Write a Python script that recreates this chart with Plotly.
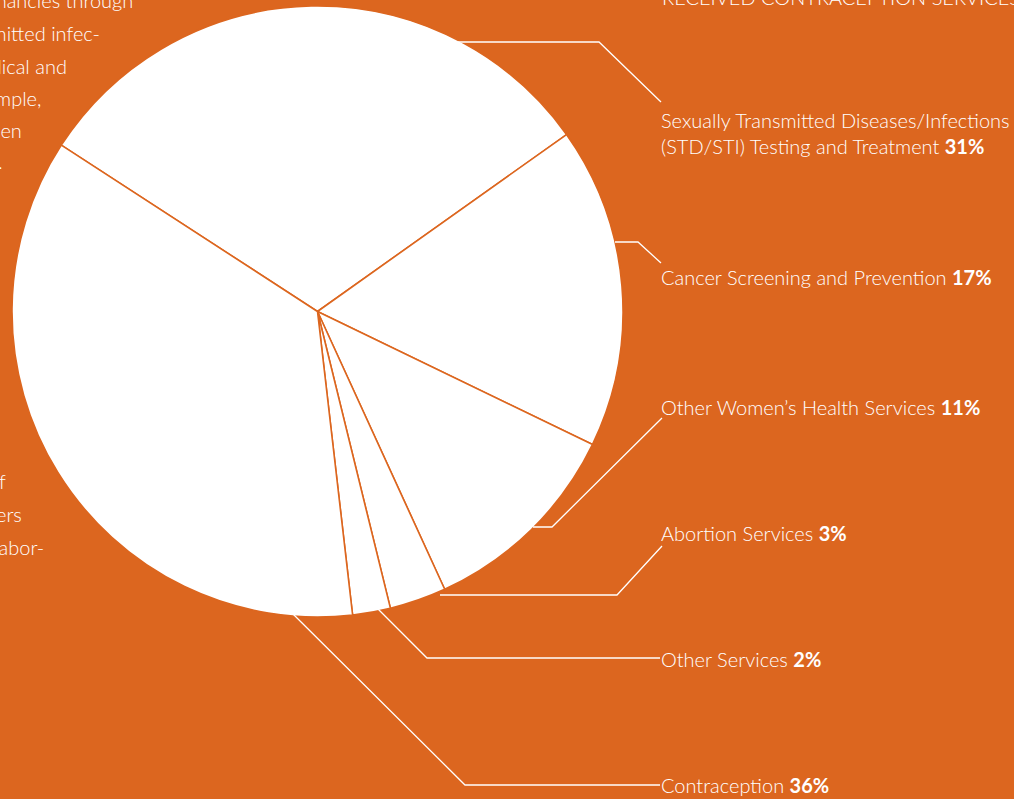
import plotly.graph_objects as go

W, H = 1014, 799

# ---- data ----
categories = [
    "Sexually Transmitted Diseases/Infections<br>(STD/STI) Testing and Treatment",
    "Cancer Screening and Prevention",
    "Other Women’s Health Services",
    "Abortion Services",
    "Other Services",
    "Contraception",
]
values = [31, 17, 11, 3, 2, 36]

heading = "RECEIVED CONTRACEPTION SERVICES"
left_top_lines = ["unintended pregnancies through", "sexually transmitted infec-", "tions, and medical and",
                  "For example,", "women", "."]
left_bottom_lines = ["of", "providers", "and labor-"]

ORANGE = "#DC661F"
WHITE = "#FFFFFF"
FONT = "Lato, Roboto, 'DejaVu Sans Condensed', sans-serif"
FS = 20


def px(x):
    return x / W


def py(y):
    return 1 - y / H


fig = go.Figure()

fig.add_trace(go.Pie(
    labels=categories,
    values=values,
    sort=False,
    direction="clockwise",
    rotation=-57,
    textinfo="none",
    hoverinfo="label+percent",
    marker=dict(colors=[WHITE] * len(values), line=dict(color=ORANGE, width=1.6)),
    domain=dict(x=[px(12), px(623)], y=[py(617), py(6)]),
    showlegend=False,
))

# label positions (pixels) and leader line paths
label_y = [133, 277, 407, 533, 659, 785]
leaders = [
    [(458, 42), (599, 42), (661, 102)],
    [(615, 242), (638, 242), (661, 263)],
    [(533, 527), (552, 527), (662, 418)],
    [(440, 595), (617, 595), (662, 546)],
    [(378, 609), (427, 658), (660, 658)],
    [(293, 614), (465, 785), (660, 785)],
]

shapes = []
for pts in leaders:
    path = "M " + " L ".join(f"{px(x)},{py(y)}" for x, y in pts)
    shapes.append(dict(type="path", xref="paper", yref="paper", path=path,
                       line=dict(color=WHITE, width=1.3)))

annotations = []
for cat, val, ly in zip(categories, values, label_y):
    annotations.append(dict(
        x=px(659), y=py(ly), xref="paper", yref="paper", xanchor="left", yanchor="middle",
        text=f"{cat} <b>{val}%</b>", showarrow=False, align="left",
        font=dict(family=FONT, size=FS, color=WHITE, weight=300),
    ))

# cut-off heading at top right
annotations.append(dict(
    x=px(660), y=py(11), xref="paper", yref="paper", xanchor="left", yanchor="bottom",
    text=heading, showarrow=False, font=dict(family=FONT, size=FS, color=WHITE, weight=300),
))

# cut-off paragraph fragments on the left
top_right_edges = [135, 102, 69, 43, 24, 5]
top_ys = [0, 33, 66, 98, 130, 161]
for t, xr, yy in zip(left_top_lines, top_right_edges, top_ys):
    annotations.append(dict(
        x=px(xr), y=py(yy), xref="paper", yref="paper", xanchor="right", yanchor="middle",
        text=t, showarrow=False, font=dict(family=FONT, size=FS, color=WHITE, weight=300),
    ))
bottom_right_edges = [8, 24, 46]
bottom_ys = [481, 514, 547]
for t, xr, yy in zip(left_bottom_lines, bottom_right_edges, bottom_ys):
    annotations.append(dict(
        x=px(xr), y=py(yy), xref="paper", yref="paper", xanchor="right", yanchor="middle",
        text=t, showarrow=False, font=dict(family=FONT, size=FS, color=WHITE, weight=300),
    ))

fig.update_layout(
    width=W, height=H,
    margin=dict(l=0, r=0, t=0, b=0),
    paper_bgcolor=ORANGE, plot_bgcolor=ORANGE,
    shapes=shapes, annotations=annotations,
    font=dict(family=FONT, color=WHITE),
)

fig.write_html("out.html")
